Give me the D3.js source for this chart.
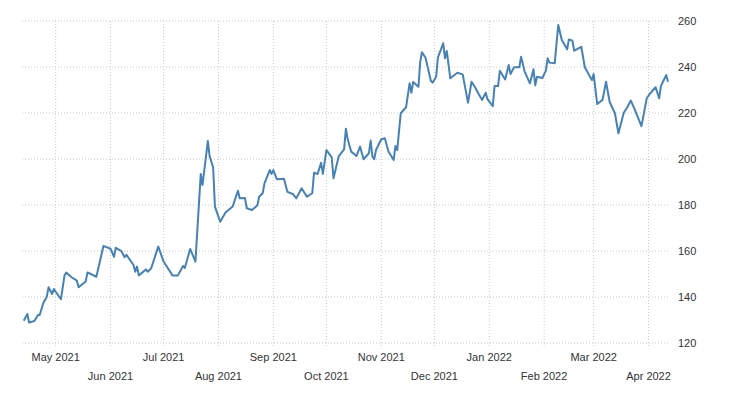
<!DOCTYPE html>
<html><head><meta charset="utf-8">
<script src="https://cdn.jsdelivr.net/npm/d3@7"></script>
<style>body{margin:0;background:#fff}</style></head>
<body><svg id="c" width="730" height="400"></svg>
<script>
const startDate = "2021-04-12";
const endDate = "2022-04-12";
const dayOffsets = [1,3,4,7,9,10,12,14,15,17,18,22,24,25,28,31,32,36,37,42,44,46,50,52,53,56,58,59,63,64,65,66,70,71,73,75,77,80,85,88,91,92,95,98,101,102,105,106,108,109,112,115,119,122,123,126,127,130,133,134,136,137,140,141,142,144,148,150,153,155,158,161,164,165,167,169,170,172,175,176,179,182,183,184,186,189,191,193,196,197,198,199,200,203,205,207,210,211,212,214,217,219,220,221,224,225,226,228,231,232,234,235,238,239,240,242,246,249,252,254,256,258,260,262,263,266,267,269,270,273,275,276,278,281,282,284,287,289,290,291,294,296,297,298,301,303,305,308,309,311,312,316,318,322,323,325,328,330,332,335,337,340,342,344,346,350,353,355,358,360,361,364,365];
const prices = [129.7,132.6,128.9,129.6,132.2,132.2,137.3,140.1,144.2,141.3,143.5,139,149.3,150.6,148.6,147.1,144.2,146.7,150.7,148.8,155.4,162.2,161,157.5,161.4,160.1,157.3,158.3,153.9,151,153.2,149.4,152,151,152.5,157.3,161.9,155.4,149.4,149.3,153.5,152.6,160.9,155.4,193.5,188.7,207.8,201.3,196.4,179.3,172.7,176.7,179.3,186.2,182.9,183,178.6,177.8,179.9,183.6,185.1,189.4,195.2,193.5,195.2,191.2,191.4,185.7,184.8,182.9,187.3,183.6,185.1,194,193.5,198.4,193.5,203.9,200.7,191.6,201.3,204.2,213.2,208.7,203.2,201.3,205.4,199.9,202.5,208,201,199.9,203.9,208.6,209,203.4,199.6,205.7,203.9,219.9,222.5,232.9,228.8,233.5,231.4,242.3,246.4,244,234,233.2,235.8,244.2,250.3,243.8,247,235.1,237.5,236.8,224.5,233.6,231.2,228.3,225.7,228.8,226,223,231.7,231.7,238.4,234.6,240.9,236.9,239.9,239.9,244.5,238,232.9,239,232,235.8,235.2,238.4,243.8,241.9,241.6,258.3,251.7,247.7,252,251.4,247.1,248.8,239.9,234.3,236.9,223.9,225.7,233.6,224.9,219.9,211.2,220.1,222.5,225.4,221.9,214.3,226.4,228.6,231.2,226.4,231.7,236.5,233.6];
const yTicks = [120,140,160,180,200,220,240,260];
const monthLabels = ["May 2021","Jun 2021","Jul 2021","Aug 2021","Sep 2021","Oct 2021","Nov 2021","Dec 2021","Jan 2022","Feb 2022","Mar 2022","Apr 2022"];

const parse = d3.timeParse("%Y-%m-%d");
const base = parse(startDate);
const data = dayOffsets.map((d,i)=>({date:d3.timeDay.offset(base,d), v:prices[i]}));
const svg = d3.select("#c");
const L=22,R=668,T=21,B=343;
const x = d3.scaleTime().domain([base, parse(endDate)]).range([L,R]);
const y = d3.scaleLinear().domain([120,260]).range([B,T]);
const months = d3.timeMonth.range(d3.timeMonth.ceil(base), parse(endDate));
const font = "Arial, 'Liberation Sans', sans-serif";

svg.append("g").selectAll("line").data(yTicks).join("line")
 .attr("x1",L).attr("x2",R).attr("y1",d=>y(d)).attr("y2",d=>y(d))
 .attr("stroke","#c8c8c8").attr("stroke-dasharray","1,2");
svg.append("g").selectAll("line").data(months).join("line")
 .attr("x1",d=>x(d)).attr("x2",d=>x(d)).attr("y1",T).attr("y2",B+5)
 .attr("stroke","#c8c8c8").attr("stroke-dasharray","1,2");
svg.append("g").selectAll("text").data(yTicks).join("text")
 .attr("x",R+10).attr("y",d=>y(d)+4).text(d=>d)
 .attr("font-family",font).attr("font-size",11).attr("fill","#333");
svg.append("g").selectAll("text").data(months).join("text")
 .attr("x",d=>x(d)).attr("y",(d,i)=>i%2===0?361:380).attr("text-anchor","middle")
 .text((d,i)=>monthLabels[i]).attr("font-family",font).attr("font-size",11).attr("fill","#333");
svg.append("path").datum(data)
 .attr("d",d3.line().x(d=>x(d.date)).y(d=>y(d.v)))
 .attr("fill","none").attr("stroke","#4682b4").attr("stroke-width",2).attr("stroke-linejoin","round");
</script></body></html>
